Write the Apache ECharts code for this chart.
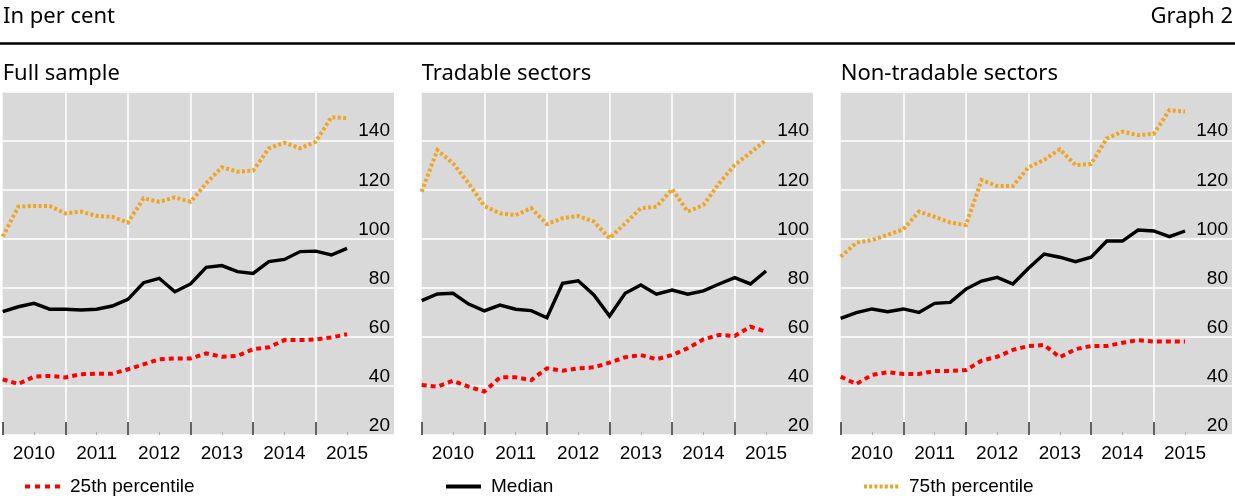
<!DOCTYPE html>
<html>
<head>
<meta charset="utf-8">
<script src="https://cdn.jsdelivr.net/npm/echarts@6/dist/echarts.min.js"></script>
<style>
html,body{margin:0;padding:0;background:#fff;}
#c{width:1235px;height:498px;}
</style>
</head>
<body>
<div id="c"></div>
<script>
// Quarterly categories (axis extends past the data to leave room for labels)
var quarters = [];
for (var y = 2010; y <= 2016; y++) { for (var q = 1; q <= 4; q++) { quarters.push(y + 'Q' + q); } }
quarters = quarters.slice(0, 26);

var panelTitles = ['Full sample', 'Tradable sectors', 'Non-tradable sectors'];
var seriesNames = ['25th percentile', 'Median', '75th percentile'];

var full25  = [42.7,40.8,43.8,44.1,43.5,44.8,45.0,45.0,46.8,48.8,50.9,51.2,51.2,53.3,51.9,52.3,55.0,55.8,58.7,58.7,59.0,59.8,61.1];
var fullMed = [70.3,72.3,73.7,71.3,71.3,71.0,71.3,72.6,75.3,82.1,83.9,78.4,81.6,88.4,89.1,86.6,85.9,90.7,91.6,94.8,95.0,93.4,96.1];
var full75  = [100.9,113.1,113.4,113.4,110.4,111.1,109.3,109.0,106.6,116.5,115.1,116.9,115.1,122.6,129.2,127.4,127.8,136.9,139.2,136.9,139.6,149.6,149.2];

var trad25  = [40.4,39.7,42.1,39.7,37.7,43.5,43.5,42.4,47.2,46.2,47.2,47.6,49.5,51.7,52.6,50.9,52.6,55.4,59.0,60.8,60.4,64.2,62.1];
var tradMed = [74.8,77.5,77.8,73.4,70.6,73.0,71.3,70.7,67.8,81.9,82.9,77.1,68.5,77.8,81.2,77.4,79.1,77.4,78.8,81.6,84.2,81.6,86.9];
var trad75  = [119.2,136.2,130.8,122.6,113.4,110.4,109.7,112.5,106.0,108.4,109.3,107.0,100.2,106.3,112.5,113.1,120.2,111.1,113.8,122.6,130.1,135.1,140.3];

var nont25  = [43.8,40.8,44.5,45.6,44.9,44.9,46.1,46.1,46.5,50.3,51.9,54.7,56.3,56.7,51.7,55.0,56.3,56.3,57.6,58.7,58.1,58.1,58.1];
var nontMed = [67.6,69.9,71.4,70.3,71.4,70.0,73.7,74.1,79.5,82.8,84.3,81.6,88.0,93.8,92.5,90.7,92.5,99.1,99.1,103.6,103.2,100.9,103.2];
var nont75  = [92.7,98.4,99.5,101.6,103.9,111.1,109.0,106.6,105.6,124.0,121.5,121.5,129.2,132.2,136.5,130.1,130.5,141.0,143.7,142.3,142.8,152.5,151.9];

var panels = [[full25, fullMed, full75], [trad25, tradMed, trad75], [nont25, nontMed, nont75]];

var lefts = [2.7, 421.7, 840.7];
var gridW = 391.3, gridTop = 91.7, gridH = 343.3;
var lastIdx = 22;
var numFont = 'Liberation Sans, Arial, sans-serif';
var txtFont = 'Noto Sans, Open Sans, sans-serif';
var titleSize = 22;

var styles = [
  {color: '#ff0000', width: 4, type: [5, 4], legType: [5, 5]},
  {color: '#000000', width: 3.4, type: 'solid', legType: 'solid'},
  {color: '#f0a424', width: 4, type: [3, 2.4], legType: [3, 2.2]}
];

var grids = [], xAxes = [], yAxes = [], series = [], titles = [];
titles.push({text: 'In per cent', left: -2, top: 1, textStyle: {fontFamily: txtFont, fontSize: titleSize, fontWeight: 'normal', color: '#000'}});
titles.push({text: 'Graph 2', right: -3, top: 1, textStyle: {fontFamily: txtFont, fontSize: titleSize, fontWeight: 'normal', color: '#000'}});

for (var p = 0; p < 3; p++) {
  grids.push({left: lefts[p], top: gridTop, width: gridW, height: gridH, show: true, backgroundColor: '#d9d9d9', borderWidth: 0, containLabel: false});
  titles.push({text: panelTitles[p], left: lefts[p] - 5, top: 58, textStyle: {fontFamily: txtFont, fontSize: titleSize, fontWeight: 'normal', color: '#000'}});
  // main x axis: major ticks, year labels, vertical grid lines
  xAxes.push({
    type: 'category', gridIndex: p, data: quarters, boundaryGap: false,
    axisLine: {show: false},
    axisTick: {show: true, inside: true, length: 13, lineStyle: {color: '#333', width: 1.5},
      interval: function (i) { return i % 4 === 0 && i <= 20; }},
    axisLabel: {show: true, margin: 9, color: '#000', fontFamily: numFont, fontSize: 19,
      interval: function (i) { return i % 4 === 2 && i <= lastIdx; },
      formatter: function (v) { return v.substr(0, 4); }},
    splitLine: {show: true, lineStyle: {color: '#ffffff', width: 1.5},
      interval: function (i) { return i % 4 === 0 && i > 0 && i <= 20; }}
  });
  // secondary x axis: minor mid-year ticks
  xAxes.push({
    type: 'category', gridIndex: p, data: quarters, boundaryGap: false, position: 'bottom',
    axisLine: {show: false}, axisLabel: {show: false}, splitLine: {show: false},
    axisTick: {show: true, inside: true, length: 3, lineStyle: {color: '#aaaaaa', width: 1},
      interval: function (i) { return i % 4 === 2 && i <= lastIdx; }}
  });
  yAxes.push({
    type: 'value', gridIndex: p, position: 'right', min: 20, max: 160, interval: 20,
    axisLine: {show: false}, axisTick: {show: false},
    axisLabel: {inside: true, margin: 4, verticalAlign: 'bottom', color: '#000', fontFamily: numFont, fontSize: 19, showMaxLabel: false},
    splitLine: {show: true, lineStyle: {color: '#ffffff', width: 1.5}}
  });
  for (var s = 0; s < 3; s++) {
    series.push({
      name: seriesNames[s], type: 'line', xAxisIndex: p * 2, yAxisIndex: p,
      data: panels[p][s], symbol: 'none', showSymbol: false, silent: true, animation: false,
      lineStyle: {color: styles[s].color, width: styles[s].width, type: styles[s].type, cap: 'butt', join: 'miter'},
      itemStyle: {color: styles[s].color},
      z: s === 1 ? 3 : 2
    });
  }
}

var legendLefts = [23, 444, 862];
var legends = seriesNames.map(function (n, i) {
  return {data: [n], left: legendLefts[i], top: 477, padding: 0, itemWidth: 35, itemHeight: 14,
    selectedMode: false,
    itemStyle: {opacity: 0, borderWidth: 0},
    lineStyle: {width: 4, color: styles[i].color, type: styles[i].legType, cap: 'butt'},
    textStyle: {fontFamily: numFont, fontSize: 19, color: '#000', padding: [0, 0, 0, 5]}};
});

var chart = echarts.init(document.getElementById('c'), null, {renderer: 'canvas'});
chart.setOption({
  animation: false,
  title: titles,
  grid: grids,
  xAxis: xAxes,
  yAxis: yAxes,
  legend: legends,
  series: series,
  graphic: [{type: 'line', shape: {x1: 0, y1: 43.5, x2: 1235, y2: 43.5}, style: {stroke: '#000', lineWidth: 2.4}, silent: true}]
});
</script>
</body>
</html>
